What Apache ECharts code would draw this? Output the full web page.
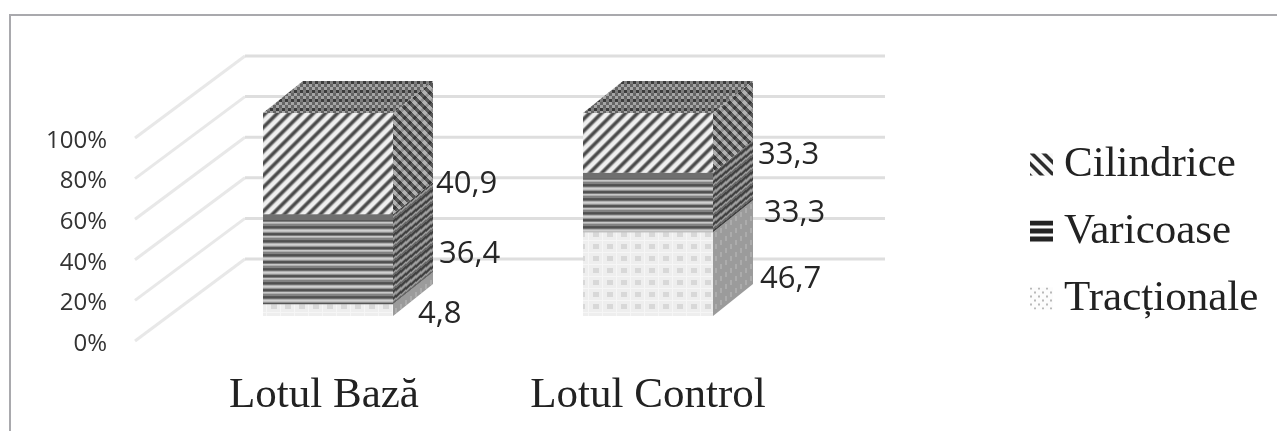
<!DOCTYPE html>
<html>
<head>
<meta charset="utf-8">
<title>Lotul Bază / Lotul Control</title>
<style>
html, body { margin: 0; padding: 0; background: #fff; }
#chart { width: 1277px; height: 431px; }
</style>
<script src="https://cdn.jsdelivr.net/npm/echarts@6/dist/echarts.min.js"></script>
</head>
<body>
<div id="chart"></div>
<script>
// values as printed on the chart (the stack is 100%, so they get normalised per group)
var categories = ['Lotul Bază', 'Lotul Control']
var tractionale = [4.8, 46.7]
var varicoase = [36.4, 33.3]
var cilindrice = [40.9, 33.3]
var valueLabels = { tractionale: ['4,8', '46,7'], varicoase: ['36,4', '33,3'], cilindrice: ['40,9', '33,3'] }
var wallTicks = [0, 20, 40, 60, 80, 100]

// label offsets from the bar's right edge / segment middle, placed by hand in the original
var labelNudge = {
    tractionale: [[-15, 4], [7, 5]],
    varicoase: [[6, -5], [11, 11]],
    cilindrice: [[3, 21], [5, 12]]
}

var barWidth = 130
var depthX = 40
var depthY = -32
var floorLift = -25 // bars stand part way into the floor
var wallX = 110
var wallY = -82
var wallFrontLeft = -33

// small grey tiles, a value per pixel
function tile (w, h, fn) {
    var c = document.createElement('canvas')
    c.width = w
    c.height = h
    var ctx = c.getContext('2d')
    var img = ctx.createImageData(w, h)
    for (var y = 0; y < h; y++) {
        for (var x = 0; x < w; x++) {
            var g = fn(x, y)
            var i = (y * w + x) * 4
            img.data[i] = img.data[i + 1] = img.data[i + 2] = g
            img.data[i + 3] = 255
        }
    }
    ctx.putImageData(img, 0, 0)
    return { image: c, repeat: 'repeat' }
}

var bands = [130, 130, 85, 80, 110, 175, 208, 192, 145, 85, 80, 125, 200, 175]
var stripes = [238, 242, 225, 165, 105, 78, 72, 95, 140, 200, 232, 240]

var patterns = {
    varFront: tile(14, 14, function (x, y) { return bands[y] }),
    varSide: tile(35, 14, function (x, y) {
        return bands[Math.floor(y + 0.8 * x) % 14] * 0.78
    }),
    cilFront: tile(12, 12, function (x, y) { return stripes[(x + y) % 12] }),
    cilSide: tile(10, 10, function (x, y) {
        var a = (x - y + 20) % 10 < 5 ? 165 : 75
        var b = (x + y) % 10 < 4 ? -18 : 12
        return a + b
    }),
    cilTop: tile(12, 18, function (x, y) {
        var check = (Math.floor(x / 3) + Math.floor(y / 3)) % 2 ? 150 : 85
        return check + (y % 9 < 3 ? -25 : 15)
    }),
    tractFront: tile(14, 12, function (x, y) {
        if (x < 1 || y < 1) return 246
        return (x >= 5 && x < 11 && y >= 4 && y < 9) ? 216 : 238
    }),
    tractSide: tile(15, 12, function (x, y) {
        var v = Math.floor(y + 0.8 * x) % 12
        return (x % 5 < 2 && v < 5) ? 172 : 155
    }),
    iconCil: tile(12, 12, function (x, y) {
        return (x - y + 24) % 12 < 5 ? 45 : 248
    }),
    iconVar: tile(8, 8, function (x, y) {
        return y < 5 ? 35 : 250
    }),
    iconTract: tile(8, 8, function (x, y) {
        return (x % 8 < 2 && y % 8 < 2) || (x % 8 >= 4 && x % 8 < 6 && y % 8 >= 4 && y % 8 < 6) ? 185 : 252
    })
}

function stackTotal (i) {
    return tractionale[i] + varicoase[i] + cilindrice[i]
}

// [category, start %, end %] for one of the stacked parts
function stacked (values, below) {
    return values.map(function (v, i) {
        var start = 0
        below.forEach(function (b) { start += b[i] })
        return [i, start / stackTotal(i) * 100, (start + v) / stackTotal(i) * 100]
    })
}

function boxSeries (name, values, below, front, side, key, withTop, topShade) {
    return {
        name: name,
        type: 'custom',
        z: 3,
        encode: { x: 0, y: [1, 2] },
        data: stacked(values, below),
        renderItem: function (params, api) {
            var idx = api.value(0)
            var bottom = api.coord([idx, api.value(1)])
            var top = api.coord([idx, api.value(2)])
            var l = bottom[0] - barWidth / 2
            var r = l + barWidth
            var yb = bottom[1] + floorLift
            var yt = top[1] + floorLift
            var nudge = labelNudge[key][idx]
            var children = [
                {
                    type: 'rect',
                    shape: { x: l, y: yt, width: barWidth, height: yb - yt },
                    style: { fill: front }
                },
                {
                    type: 'polygon',
                    shape: { points: [[r, yb], [r + depthX, yb + depthY], [r + depthX, yt + depthY], [r, yt]] },
                    style: { fill: side }
                }
            ]
            if (topShade) {
                children.push({
                    type: 'rect',
                    shape: { x: l, y: yt, width: barWidth, height: topShade },
                    style: { fill: '#6f6f6f' }
                })
            }
            if (withTop) {
                children.push({
                    type: 'polygon',
                    shape: { points: [[l, yt], [l + depthX, yt + depthY], [r + depthX, yt + depthY], [r, yt]] },
                    style: { fill: patterns.cilTop }
                })
            }
            children.push({
                type: 'text',
                z2: 10,
                style: {
                    text: valueLabels[key][idx],
                    x: r + depthX + nudge[0],
                    y: (yb + yt) / 2 + nudge[1],
                    verticalAlign: 'middle',
                    font: '31px "Open Sans"',
                    fill: '#262626'
                }
            })
            return { type: 'group', children: children }
        }
    }
}

var wallSeries = {
    name: 'wall',
    type: 'custom',
    z: 1,
    silent: true,
    encode: { x: 0, y: 1 },
    data: wallTicks.map(function (t) { return [0, t] }),
    renderItem: function (params, api) {
        var p = api.coord([0, api.value(1)])
        var x0 = params.coordSys.x + wallFrontLeft
        var cornerX = x0 + wallX
        var cornerY = p[1] + wallY
        return {
            type: 'group',
            children: [
                {
                    type: 'line',
                    shape: { x1: x0, y1: p[1], x2: cornerX, y2: cornerY },
                    style: { stroke: '#e8e8e8', lineWidth: 3 }
                },
                {
                    type: 'line',
                    shape: { x1: cornerX, y1: cornerY, x2: cornerX + params.coordSys.width, y2: cornerY },
                    style: { stroke: '#dedede', lineWidth: 3 }
                }
            ]
        }
    }
}

var myChart = echarts.init(document.getElementById('chart'), null, { renderer: 'canvas' })
var option = {
    animation: false,
    backgroundColor: '#fff',
    grid: { left: 168, top: 138, width: 640, height: 203 },
    legend: {
        orient: 'vertical',
        left: 1025,
        top: 138,
        itemWidth: 23,
        itemHeight: 22,
        itemGap: 24,
        selectedMode: false,
        textStyle: {
            fontFamily: '"Liberation Serif"',
            fontSize: 43,
            color: '#222',
            padding: [0, 0, 0, 6]
        },
        data: [
            { name: 'Cilindrice', icon: 'rect', itemStyle: { color: patterns.iconCil } },
            { name: 'Varicoase', icon: 'rect', itemStyle: { color: patterns.iconVar } },
            { name: 'Tracționale', icon: 'rect', itemStyle: { color: patterns.iconTract } }
        ]
    },
    xAxis: {
        type: 'category',
        data: categories,
        axisLine: { show: false },
        axisTick: { show: false },
        axisLabel: {
            interval: 0,
            hideOverlap: false,
            margin: 33,
            fontFamily: '"Liberation Serif"',
            fontSize: 43,
            color: '#222',
            formatter: function (name) {
                return name === categories[0] ? '{left|' + name + '}' : name
            },
            rich: {
                left: {
                    fontFamily: '"Liberation Serif"',
                    fontSize: 43,
                    color: '#222',
                    padding: [0, 8, 0, 0]
                }
            }
        }
    },
    yAxis: {
        type: 'value',
        min: 0,
        max: 100,
        interval: 20,
        axisLine: { show: false },
        axisTick: { show: false },
        splitLine: { show: false },
        axisLabel: {
            margin: 61,
            formatter: '{value}%',
            fontFamily: '"Open Sans"',
            fontSize: 24,
            color: '#333',
            verticalAlign: 'top',
            lineHeight: 6
        }
    },
    series: [
        wallSeries,
        boxSeries('Tracționale', tractionale, [], patterns.tractFront, patterns.tractSide, 'tractionale', false, 0),
        boxSeries('Varicoase', varicoase, [tractionale], patterns.varFront, patterns.varSide, 'varicoase', false, 6),
        boxSeries('Cilindrice', cilindrice, [tractionale, varicoase], patterns.cilFront, patterns.cilSide, 'cilindrice', true, 0)
    ],
    graphic: [
        {
            type: 'polyline',
            silent: true,
            shape: { points: [[1277, 15], [10, 15], [10, 431]] },
            style: { fill: 'none', stroke: '#a9a9ad', lineWidth: 2 }
        }
    ]
}
myChart.setOption(option)
</script>
</body>
</html>
